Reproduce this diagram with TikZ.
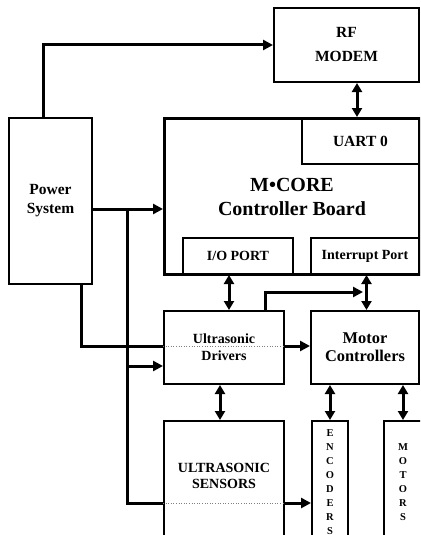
\documentclass[tikz,border=0pt]{standalone}
\usepackage{fontspec}
\setmainfont{Liberation Serif}
\usetikzlibrary{arrows.meta}
\newcommand\fs[2]{\fontsize{#1}{#2}\selectfont\bfseries}

\begin{document}
\begin{tikzpicture}[
  x=1pt,y=-1pt,
  box/.style={rectangle,draw,line width=2pt,anchor=north west,inner sep=0,align=center},
  ln/.style={line width=3pt},
  a/.style={ln,-{Triangle[length=10pt,width=10pt]}},
  da/.style={ln,{Triangle[length=9pt,width=10pt]}-{Triangle[length=9pt,width=10pt]}},
  dot/.style={gray,dotted,line width=0.6pt},
]
\useasboundingbox (0,0) rectangle (420,535);
\clip (0,0) rectangle (420,535);

% Blocks
\node[box,minimum width=145pt,minimum height=74pt,font=\fs{15.5}{24}] (rf) at (273,7) {RF\\MODEM};
\node[box,minimum width=83pt,minimum height=166pt,font=\fs{15.5}{19}] (pwr) at (8,117) {Power\\System};
\node[box,line width=3pt,minimum width=255pt,minimum height=156pt,font=\fs{20}{24}] (mcu) at (163,117) {M•CORE\\Controller Board};
\node[box,minimum width=117pt,minimum height=46pt,font=\fs{15.5}{19}] (uart) at (301,117) {UART 0};
\node[box,minimum width=110pt,minimum height=36pt,font=\fs{14}{17}] (io) at (182,237) {I/O PORT};
\node[box,minimum width=108pt,minimum height=36pt,font=\fs{14}{17}] (irq) at (310,237) {Interrupt Port};
\node[box,minimum width=120pt,minimum height=73pt,font=\fs{14}{17}] (usd) at (163,310) {Ultrasonic\\Drivers};
\node[box,minimum width=108pt,minimum height=73pt,font=\fs{16.4}{18}] (mc) at (310,310) {Motor\\Controllers};
\node[box,minimum width=120pt,minimum height=140pt,
  label={[yshift=15pt,align=center,font=\fs{14}{15.5}]center:ULTRASONIC\\SENSORS}] (uss) at (163,420) {};
\node[box,minimum width=36pt,minimum height=122pt,font=\fs{10.5}{14}] (enc) at (311,420) {E\\N\\C\\O\\D\\E\\R\\S};
\node[box,minimum width=38pt,minimum height=122pt,font=\fs{10.5}{14}] (mot) at (383,420) {M\\O\\T\\O\\R\\S};

% Bends and junctions
\coordinate (t1) at (43,45);
\coordinate (j1) at (127,209);
\coordinate (j2) at (127,366);
\coordinate (j3) at (127,503);
\coordinate (p1) at (81,346);
\coordinate (k1) at (363,292);

% Power
\draw[a] (pwr.north -| t1) |- (rf.west |- t1);
\draw[a] (pwr.east |- j1) -- (mcu.west |- j1);
\draw[ln] (j1) -- (j3) -- (uss.west |- j3);
\draw[a] (j2) -- (usd.west |- j2);
\draw[dot] (uss.west |- j3) -- (uss.east |- j3);
\draw[a] (uss.east |- j3) -- (enc.west |- j3);
\draw[ln] (pwr.south -| p1) |- (usd.west |- p1);
\draw[dot] (usd.west |- p1) -- (usd.east |- p1);
\draw[a] (usd.east |- p1) -- (mc.west |- p1);

% Data
\draw[da] ([xshift=-3.5pt]uart.north |- rf.south) -- ([xshift=-3.5pt]uart.north);
\draw[da] ([xshift=-9pt]io.south) -- ([xshift=-9pt]io.south |- usd.north);
\draw[da] ([xshift=1.5pt]irq.south) -- ([xshift=1.5pt]irq.south |- mc.north);
\draw[a] ([xshift=41pt]usd.north) |- (k1);
\draw[da] ([xshift=-4pt]usd.south) -- ([xshift=-4pt]uss.north);
\draw[da] (enc.north |- mc.south) -- (enc.north);
\draw[da] (mot.north |- mc.south) -- (mot.north);
\end{tikzpicture}
\end{document}
